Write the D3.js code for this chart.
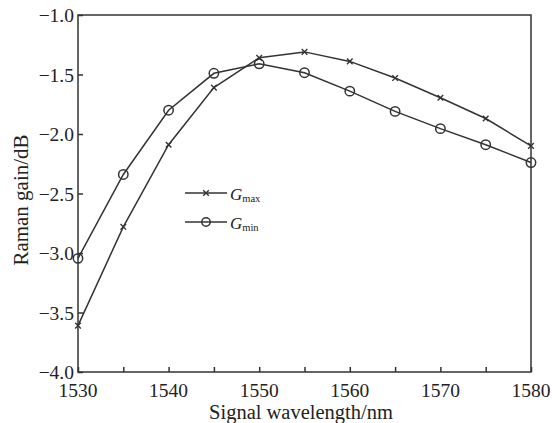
<!DOCTYPE html>
<html><head><meta charset="utf-8">
<script src="https://cdn.jsdelivr.net/npm/d3@7"></script>
<style>body{margin:0;background:#fff}svg{display:block}text{font-family:"Liberation Serif","DejaVu Serif",serif;fill:#222}</style>
</head><body>
<script>
const wavelengths = [1530,1535,1540,1545,1550,1555,1560,1565,1570,1575,1580];
const gMax = [-3.61,-2.78,-2.09,-1.61,-1.36,-1.31,-1.39,-1.53,-1.695,-1.87,-2.10];
const gMin = [-3.045,-2.34,-1.80,-1.49,-1.41,-1.485,-1.64,-1.81,-1.955,-2.09,-2.24];
const xTicks = [1530,1540,1550,1560,1570,1580];
const xMinorTicks = [1535,1545,1555,1565,1575];
const yTicks = [-4.0,-3.5,-3.0,-2.5,-2.0,-1.5,-1.0];

const W=552,H=423, L=78,R=531,T=15,B=372;
const FS=19.5;
const svg=d3.select("body").append("svg").attr("width",W).attr("height",H);
const x=d3.scaleLinear().domain([1530,1580]).range([L,R]);
const y=d3.scaleLinear().domain([-4,-1]).range([B,T]);
const col="#333";

svg.append("rect").attr("x",L).attr("y",T).attr("width",R-L).attr("height",B-T)
  .attr("fill","none").attr("stroke",col).attr("stroke-width",1.5);

const fmt=d=>d.toFixed(1).replace("-","\u2212");
// bottom axis ticks
const xa=svg.append("g").attr("transform",`translate(0,${B})`)
  .call(d3.axisBottom(x).tickValues(xTicks.concat(xMinorTicks)).tickSizeInner(-5).tickSizeOuter(0).tickFormat(""));
xa.select(".domain").remove();
xa.selectAll("line").attr("stroke",col).attr("stroke-width",1.5);
svg.append("g").selectAll("text").data(xTicks).enter().append("text")
  .attr("x",d=>x(d)).attr("y",397)
  .attr("text-anchor","middle").attr("font-size",FS).text(d=>d);
// left axis ticks
const ya=svg.append("g").attr("transform",`translate(${L},0)`)
  .call(d3.axisLeft(y).tickValues(yTicks).tickSizeInner(-5).tickSizeOuter(0).tickFormat(""));
ya.select(".domain").remove();
ya.selectAll("line").attr("stroke",col).attr("stroke-width",1.5);
svg.append("g").selectAll("text").data(yTicks).enter().append("text")
  .attr("x",74).attr("y",d=>y(d)+7)
  .attr("text-anchor","end").attr("font-size",FS).text(fmt);

const line=d3.line().x(d=>x(d[0])).y(d=>y(d[1]));
const dMax=wavelengths.map((w,i)=>[w,gMax[i]]);
const dMin=wavelengths.map((w,i)=>[w,gMin[i]]);
svg.append("path").datum(dMax).attr("d",line).attr("fill","none").attr("stroke",col).attr("stroke-width",1.5);
svg.append("path").datum(dMin).attr("d",line).attr("fill","none").attr("stroke",col).attr("stroke-width",1.5);

function cross(g,cx,cy,s){
  g.append("path").attr("d",`M${cx-s},${cy-s}L${cx+s},${cy+s}M${cx-s},${cy+s}L${cx+s},${cy-s}`)
   .attr("stroke",col).attr("stroke-width",1.4);
}
dMax.forEach(d=>cross(svg,x(d[0]),y(d[1]),2.8));
svg.selectAll("circle.m").data(dMin).enter().append("circle")
  .attr("cx",d=>x(d[0])).attr("cy",d=>y(d[1])).attr("r",4.7)
  .attr("fill","none").attr("stroke",col).attr("stroke-width",1.5);

// legend
const lg=svg.append("g");
lg.append("line").attr("x1",185).attr("x2",227).attr("y1",193).attr("y2",193).attr("stroke",col).attr("stroke-width",1.5);
cross(lg,206,193,2.8);
lg.append("line").attr("x1",185).attr("x2",227).attr("y1",222).attr("y2",222).attr("stroke",col).attr("stroke-width",1.5);
lg.append("circle").attr("cx",206).attr("cy",222).attr("r",4.2).attr("fill","none").attr("stroke",col).attr("stroke-width",1.5);
const t1=lg.append("text").attr("x",230).attr("y",200).attr("font-size",17);
t1.append("tspan").attr("font-style","italic").text("G");
t1.append("tspan").attr("font-size",10.5).attr("dy",2).text("max");
const t2=lg.append("text").attr("x",230).attr("y",229).attr("font-size",17);
t2.append("tspan").attr("font-style","italic").text("G");
t2.append("tspan").attr("font-size",10.5).attr("dy",2).text("min");

svg.append("text").attr("x",301).attr("y",419).attr("text-anchor","middle").attr("font-size",20.5).text("Signal wavelength/nm");
svg.append("text").attr("transform",`translate(28,200) rotate(-90)`).attr("text-anchor","middle").attr("font-size",21).text("Raman gain/dB");
</script>
</body></html>
